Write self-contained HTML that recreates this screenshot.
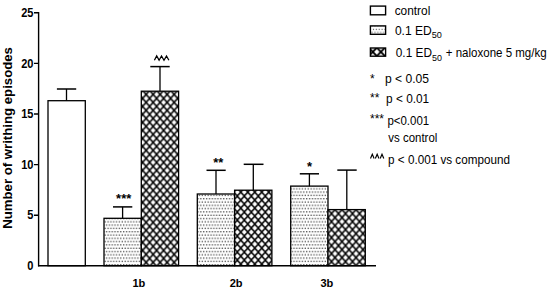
<!DOCTYPE html>
<html><head><meta charset="utf-8">
<style>
html,body{margin:0;padding:0;background:#fff;}
body{width:550px;height:290px;overflow:hidden;}
svg{display:block;}
text{font-family:"Liberation Sans",sans-serif;fill:#000;}
.b{font-weight:bold;}
</style></head><body>
<svg width="550" height="290" viewBox="0 0 550 290">
<defs>
<pattern id="dots" patternUnits="userSpaceOnUse" width="2.86" height="6.6" x="0" y="0">
<rect x="0.15" y="0.15" width="1.15" height="1.15" fill="#1c1c1c"/>
<rect x="1.58" y="3.45" width="1.15" height="1.15" fill="#1c1c1c"/>
</pattern>
<pattern id="hatch1" patternUnits="userSpaceOnUse" width="7" height="8" x="142.6" y="94.4">
<rect width="7" height="8" fill="#000"/>
<path d="M3.50 1.20L6.00 4.00L3.50 6.80L1.00 4.00ZM0.00 -2.80L2.50 0.00L0.00 2.80L-2.50 0.00ZM7.00 -2.80L9.50 0.00L7.00 2.80L4.50 0.00ZM0.00 5.20L2.50 8.00L0.00 10.80L-2.50 8.00ZM7.00 5.20L9.50 8.00L7.00 10.80L4.50 8.00Z" fill="#fff"/>
</pattern>
<pattern id="hatch2" patternUnits="userSpaceOnUse" width="7" height="8" x="237.3" y="192.1">
<rect width="7" height="8" fill="#000"/>
<path d="M3.50 1.20L6.00 4.00L3.50 6.80L1.00 4.00ZM0.00 -2.80L2.50 0.00L0.00 2.80L-2.50 0.00ZM7.00 -2.80L9.50 0.00L7.00 2.80L4.50 0.00ZM0.00 5.20L2.50 8.00L0.00 10.80L-2.50 8.00ZM7.00 5.20L9.50 8.00L7.00 10.80L4.50 8.00Z" fill="#fff"/>
</pattern>
<pattern id="hatch3" patternUnits="userSpaceOnUse" width="7" height="8" x="331.5" y="217.6">
<rect width="7" height="8" fill="#000"/>
<path d="M3.50 1.20L6.00 4.00L3.50 6.80L1.00 4.00ZM0.00 -2.80L2.50 0.00L0.00 2.80L-2.50 0.00ZM7.00 -2.80L9.50 0.00L7.00 2.80L4.50 0.00ZM0.00 5.20L2.50 8.00L0.00 10.80L-2.50 8.00ZM7.00 5.20L9.50 8.00L7.00 10.80L4.50 8.00Z" fill="#fff"/>
</pattern>
<pattern id="hatchL" patternUnits="userSpaceOnUse" width="8.1" height="8.6" x="368.75" y="47.6">
<rect width="8.1" height="8.6" fill="#fff"/>
<path d="M0 0L8.1 8.6M8.1 0L0 8.6" stroke="#000" stroke-width="1.85"/>
</pattern>
<pattern id="dotsL" patternUnits="userSpaceOnUse" width="2.9" height="6.6" x="370.0" y="28.8">
<rect x="0" y="0" width="1.05" height="1.05" fill="#383838"/>
<rect x="1.43" y="3.1" width="1.05" height="1.05" fill="#383838"/>
</pattern>
</defs>

<!-- bars -->
<g stroke="#000" stroke-width="1.3">
<rect x="48" y="100.7" width="37.3" height="165" fill="#fff"/>
<rect x="104" y="218.3" width="37.3" height="47.4" fill="url(#dots)"/>
<rect x="141.3" y="91.2" width="37.3" height="174.5" fill="url(#hatch1)"/>
<rect x="197.3" y="194" width="37.3" height="71.7" fill="url(#dots)"/>
<rect x="234.6" y="190.2" width="37.3" height="75.5" fill="url(#hatch2)"/>
<rect x="290.7" y="186.1" width="37.3" height="79.6" fill="url(#dots)"/>
<rect x="328" y="209.6" width="37.3" height="56.1" fill="url(#hatch3)"/>
</g>
<!-- error bars -->
<g stroke="#000" stroke-width="1.3" fill="none">
<path d="M66.5 100.7V89"/>
<path d="M122.6 218.3V206.9"/>
<path d="M160 91.2V66.6"/>
<path d="M216 194V170.3"/>
<path d="M253.3 190.2V164.3"/>
<path d="M309.4 186.1V173.8"/>
<path d="M346.8 209.6V170.1"/>
</g>
<g stroke="#000" stroke-width="1.5" fill="none">
<path d="M56.9 89H76.2"/>
<path d="M113 206.9H132.3"/>
<path d="M150.3 66.6H169.7"/>
<path d="M206.5 170.3H225.7"/>
<path d="M243.7 164.3H263.5"/>
<path d="M299.8 173.8H319"/>
<path d="M337.3 170.1H356.7"/>
</g>
<!-- axes -->
<g stroke="#000" stroke-width="1.4" fill="none">
<path d="M38.6 12.1V266.4"/>
<path d="M38 265.8H376"/>
<path d="M34 12.8H39 M34 63.4H39 M34 114.0H39 M34 164.6H39 M34 215.2H39"/>
</g>
<!-- y labels -->
<g class="b" font-size="12.3" text-anchor="end" transform="translate(33.4,0) scale(0.9,1) translate(-33.4,0)">
<text x="33.5" y="17">25</text>
<text x="33.5" y="67.6">20</text>
<text x="33.5" y="118.2">15</text>
<text x="33.5" y="168.8">10</text>
<text x="33.5" y="219.4">5</text>
<text x="33.5" y="270">0</text>
</g>
<text class="b" font-size="13.2" transform="translate(11.7,228.8) rotate(-90)">Number of writhing episodes</text>
<!-- x labels -->
<g class="b" font-size="11.5" text-anchor="middle">
<text transform="translate(138.9,286.9) scale(0.96,1)">1b</text>
<text transform="translate(236.1,286.9) scale(0.96,1)">2b</text>
<text transform="translate(326.9,286.9) scale(0.96,1)">3b</text>
</g>
<!-- significance -->
<g class="b" font-size="13" text-anchor="middle">
<text x="123.7" y="203.2">***</text>
<text x="218.3" y="166.5">**</text>
<text x="309.6" y="171">*</text>
</g>
<path d="M154.4 60.2L156.7 55.9L159.1 60.2L161.5 55.9L164 60.2L166.5 55.9L168.9 60.2" stroke="#000" stroke-width="1.25" fill="none"/>

<!-- legend -->
<path d="M370.50 158.5L372.30 154.2L374.10 158.5M375.35 158.5L377.15 154.2L378.95 158.5M380.20 158.5L382.00 154.2L383.80 158.5" stroke="#000" stroke-width="1.15" fill="none"/>
<g stroke="#000" stroke-width="1.4">
<rect x="370.4" y="6.1" width="15.2" height="8.7" fill="#fff"/>
<rect x="370.4" y="25.9" width="15.2" height="8.4" fill="url(#dotsL)"/>
<rect x="370.4" y="48" width="15.2" height="8.2" fill="url(#hatchL)"/>
</g>
<g font-size="12.7">
<text x="394.7" y="14.9" textLength="35.6" lengthAdjust="spacingAndGlyphs">control</text>
<text x="394.9" y="34.9" textLength="46.9" lengthAdjust="spacingAndGlyphs">0.1 ED<tspan font-size="9.6" dy="3.2">50</tspan></text>
<text x="395.8" y="57.2" textLength="46.1" lengthAdjust="spacingAndGlyphs">0.1 ED<tspan font-size="9.6" dy="3.4">50</tspan></text>
<text x="445.8" y="57.2" textLength="100.8" lengthAdjust="spacingAndGlyphs">+ naloxone 5 mg/kg</text>
<text x="384.9" y="83.4" textLength="44.1" lengthAdjust="spacingAndGlyphs">p &lt; 0.05</text>
<text x="386.1" y="102.6" textLength="43.1" lengthAdjust="spacingAndGlyphs">p &lt; 0.01</text>
<text x="387.4" y="124.6" textLength="41.8" lengthAdjust="spacingAndGlyphs">p&lt;0.001</text>
<text x="388.3" y="141.7" textLength="49" lengthAdjust="spacingAndGlyphs">vs control</text>
<text x="388.1" y="163.9" textLength="121.8" lengthAdjust="spacingAndGlyphs">p &lt; 0.001 vs compound</text>
</g>
<g font-size="12">
<text x="370" y="83">*</text>
<text x="370" y="101.5">**</text>
<text x="370" y="123.1">***</text>
</g>
</svg>
</body></html>
